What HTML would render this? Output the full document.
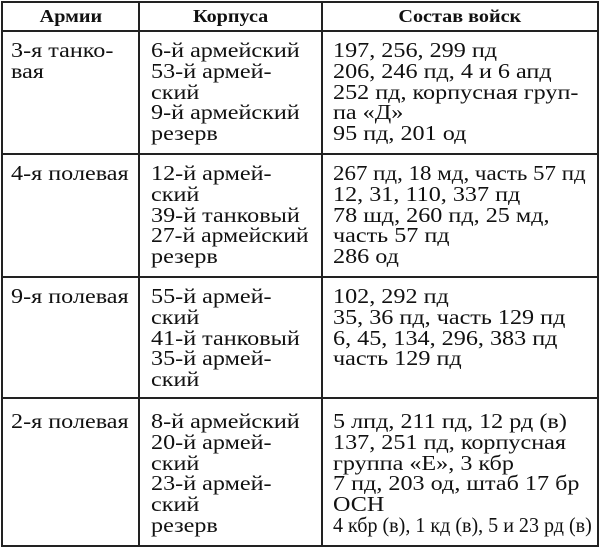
<!DOCTYPE html>
<html><head><meta charset="utf-8"><style>
body{margin:0;width:600px;height:548px;background:#fff;overflow:hidden;position:relative;font-family:"Liberation Serif",serif;color:#111}
.h{position:absolute;height:2px;background:#222;left:1px;width:597px}
.v{position:absolute;width:2px;background:#222;top:1px;height:546px}
.c{position:absolute;white-space:pre;font-size:21px;line-height:20.8px;transform:scaleX(1.15);transform-origin:0 0}
.c span{display:inline-block;transform-origin:0 0}
.hd{position:absolute;top:6px;font-weight:bold;font-size:18px;text-align:center}
.hd span{display:inline-block;transform:scaleX(1.12)}
</style></head><body>
<div class="h" style="top:1px"></div>
<div class="h" style="top:30px"></div>
<div class="h" style="top:153px"></div>
<div class="h" style="top:276px"></div>
<div class="h" style="top:397px"></div>
<div class="h" style="top:545px"></div>
<div class="v" style="left:1px"></div>
<div class="v" style="left:138px"></div>
<div class="v" style="left:321px"></div>
<div class="v" style="left:597px"></div>

<div class="hd" style="left:3px;width:135px"><span>Армии</span></div>
<div class="hd" style="left:140px;width:181px"><span>Корпуса</span></div>
<div class="hd" style="left:323px;width:274px"><span>Состав войск</span></div>

<div class="c" style="left:11px;top:40px">3-я танко-
вая</div>
<div class="c" style="left:151px;top:40px">6-й армейский
53-й армей-
ский
9-й армейский
резерв</div>
<div class="c" style="left:333px;top:40px">197, 256, 299 пд
206, 246 пд, 4 и 6 апд
252 пд, корпусная груп-
па «Д»
95 пд, 201 од</div>

<div class="c" style="left:11px;top:163px">4-я полевая</div>
<div class="c" style="left:151px;top:163px">12-й армей-
ский
39-й танковый
<span style="transform:scaleX(0.98)">27-й армейский</span>
резерв</div>
<div class="c" style="left:333px;top:163px"><span style="transform:scaleX(0.95)">267 пд, 18 мд, часть 57 пд</span>
12, 31, 110, 337 пд
78 шд, 260 пд, 25 мд,
часть 57 пд
286 од</div>

<div class="c" style="left:11px;top:286px">9-я полевая</div>
<div class="c" style="left:151px;top:286px">55-й армей-
ский
41-й танковый
35-й армей-
ский</div>
<div class="c" style="left:333px;top:286px">102, 292 пд
35, 36 пд, часть 129 пд
6, 45, 134, 296, 383 пд
часть 129 пд</div>

<div class="c" style="left:11px;top:411px">2-я полевая</div>
<div class="c" style="left:151px;top:411px">8-й армейский
20-й армей-
ский
23-й армей-
ский
резерв</div>
<div class="c" style="left:333px;top:411px">5 лпд, 211 пд, 12 рд (в)
137, 251 пд, корпусная
группа «Е», 3 кбр
7 пд, 203 од, штаб 17 бр
ОСН
<span style="transform:scaleX(0.83)">4 кбр (в), 1 кд (в), 5 и 23 рд (в)</span></div>
</body></html>
